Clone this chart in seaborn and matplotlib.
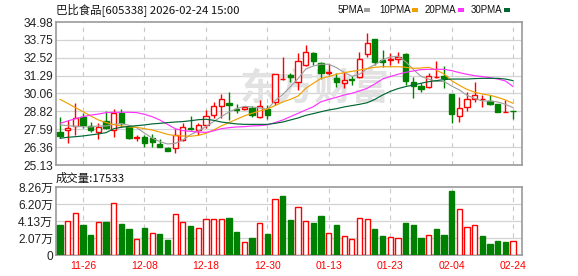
import numpy as np
import pandas as pd
import matplotlib
matplotlib.use("Agg")
import matplotlib.pyplot as plt
from matplotlib.patches import Rectangle
import seaborn as sns

# ---------------- data ----------------
dates = ["11-21", "11-24", "11-25", "11-26", "11-27", "11-28",
         "12-01", "12-02", "12-03", "12-04", "12-05",
         "12-08", "12-09", "12-10", "12-11", "12-12",
         "12-15", "12-16", "12-17", "12-18", "12-19",
         "12-22", "12-23", "12-24", "12-25", "12-26",
         "12-29", "12-30", "12-31",
         "01-05", "01-06", "01-07", "01-08", "01-09",
         "01-12", "01-13", "01-14", "01-15", "01-16",
         "01-19", "01-20", "01-21", "01-22", "01-23",
         "01-26", "01-27", "01-28", "01-29", "01-30",
         "02-02", "02-03", "02-04", "02-05", "02-06",
         "02-09", "02-10", "02-11", "02-12", "02-13", "02-24"]

opens = [27.38, 27.54, 27.82, 28.41, 27.82, 27.43, 28.16, 27.54, 28.69, 27.77,
         27.00, 27.08, 26.99, 26.55, 26.32, 26.28, 26.85, 27.70, 27.54, 27.89,
         28.57, 29.22, 29.38, 29.01, 28.97, 29.08, 28.46, 28.97, 29.45, 31.03,
         31.33, 30.87, 32.02, 32.82, 32.13, 31.48, 31.15, 30.76, 31.05, 31.17,
         32.78, 33.79, 32.36, 32.36, 32.41, 32.78, 30.87, 30.57, 30.53, 31.17,
         31.26, 30.02, 28.51, 29.15, 29.68, 29.65, 29.52, 29.31, 28.76, 28.87]
highs = [28.46, 28.23, 29.38, 28.69, 28.07, 28.00, 28.87, 28.99, 28.97, 27.80,
         27.20, 27.20, 27.24, 26.90, 26.39, 27.61, 28.00, 28.53, 28.00, 28.92,
         29.49, 30.02, 30.18, 29.33, 29.20, 29.22, 29.61, 29.26, 31.40, 32.59,
         31.50, 32.87, 33.40, 32.89, 32.25, 32.06, 31.49, 31.56, 31.28, 32.89,
         34.20, 33.79, 33.05, 32.87, 32.91, 32.82, 31.17, 30.80, 31.49, 32.30,
         31.95, 30.02, 29.79, 30.18, 30.87, 29.95, 29.95, 29.31, 29.61, 28.87]
lows = [26.97, 26.62, 27.20, 27.66, 27.43, 26.90, 27.59, 27.08, 27.73, 26.92,
        26.75, 26.39, 26.39, 26.35, 26.12, 25.98, 26.78, 27.54, 27.20, 27.66,
        28.35, 28.35, 28.23, 28.69, 28.92, 28.46, 28.39, 28.32, 29.27, 31.00,
        30.87, 30.30, 31.94, 32.02, 31.05, 31.31, 30.53, 30.46, 30.64, 31.10,
        32.59, 32.02, 31.86, 32.02, 32.13, 30.64, 29.72, 30.18, 30.41, 31.10,
        30.46, 28.00, 28.12, 28.87, 29.49, 29.15, 29.26, 28.76, 28.76, 28.27]
closes = [27.13, 27.66, 28.35, 27.89, 27.54, 27.77, 27.66, 28.69, 28.00, 26.97,
          27.08, 26.62, 26.70, 26.39, 26.12, 27.20, 27.73, 27.64, 27.89, 28.51,
          29.20, 29.65, 29.29, 28.94, 29.13, 28.55, 29.22, 28.55, 31.40, 31.05,
          31.22, 32.32, 32.94, 32.32, 31.49, 31.52, 30.83, 30.99, 30.99, 32.41,
          33.56, 32.20, 32.25, 32.43, 32.57, 30.89, 30.60, 30.37, 31.28, 31.20,
          31.10, 28.64, 29.03, 29.65, 29.93, 29.70, 29.33, 28.78, 28.76, 28.83]

# volume in 万 (10k hands)
volumes = [3.63, 4.15, 5.16, 3.63, 2.42, 3.95, 3.95, 6.37, 3.75, 3.14,
           1.89, 3.26, 2.62, 2.50, 1.81, 4.92, 3.95, 3.51, 3.22, 4.43,
           4.43, 4.43, 4.55, 2.78, 1.53, 2.06, 3.83, 2.54, 6.77, 7.13,
           4.23, 5.88, 4.07, 3.87, 4.72, 2.62, 3.63, 2.30, 1.93, 4.55,
           4.35, 3.14, 2.30, 2.18, 2.02, 3.87, 3.63, 2.06, 2.38, 3.14,
           2.42, 7.74, 5.64, 3.39, 3.59, 2.30, 1.33, 1.69, 1.57, 1.7533]
vol_up = [0, 1, 1, 0, 0, 1, 0, 1, 0, 0,
          1, 0, 1, 0, 0, 1, 1, 0, 1, 1,
          1, 1, 0, 0, 1, 0, 1, 0, 1, 0,
          0, 1, 1, 0, 0, 1, 0, 1, 1, 1,
          1, 0, 0, 1, 1, 0, 0, 0, 1, 0,
          0, 0, 1, 1, 1, 0, 0, 0, 0, 1]

ma5 = [27.89, 27.84, 27.79, 27.77, 27.75, 27.82, 27.82, 27.93, 27.98, 27.86,
       27.70, 27.33, 26.99, 26.74, 26.58, 26.62, 26.85, 27.22, 27.47, 27.77,
       28.12, 28.46, 28.78, 29.01, 29.17, 29.13, 29.06, 28.97, 29.56, 29.98,
       30.53, 31.08, 31.74, 31.95, 32.07, 32.07, 31.84, 31.51, 31.24, 31.38,
       31.77, 32.04, 32.36, 32.57, 32.62, 32.25, 31.72, 31.24, 31.05, 30.89,
       30.89, 30.57, 30.30, 29.93, 29.72, 29.54, 29.54, 29.47, 29.31, 29.08]
ma10 = [29.65, 29.38, 29.08, 28.80, 28.51, 28.23, 28.05, 27.91, 27.82, 27.75,
        27.73, 27.63, 27.54, 27.40, 27.24, 27.15, 27.13, 27.11, 27.17, 27.31,
        27.54, 27.82, 28.05, 28.28, 28.51, 28.69, 28.85, 28.99, 29.22, 29.47,
        29.65, 29.88, 30.41, 30.76, 31.10, 31.22, 31.38, 31.49, 31.58, 31.67,
        31.77, 31.86, 31.90, 31.90, 31.90, 31.86, 31.79, 31.81, 31.86, 31.67,
        31.40, 30.94, 30.62, 30.34, 30.14, 30.02, 29.93, 29.79, 29.61, 29.38]
ma20 = [28.00, 28.16, 28.32, 28.46, 28.57, 28.64, 28.74, 28.76, 28.76, 28.76,
        28.74, 28.62, 28.46, 28.23, 27.93, 27.63, 27.50, 27.45, 27.40, 27.38,
        27.48, 27.63, 27.70, 27.75, 27.77, 27.82, 27.84, 27.89, 28.05, 28.23,
        28.46, 28.69, 28.92, 29.15, 29.49, 29.65, 29.79, 29.95, 30.07, 30.23,
        30.41, 30.71, 31.05, 31.22, 31.38, 31.51, 31.61, 31.70, 31.72, 31.72,
        31.72, 31.63, 31.49, 31.38, 31.28, 31.22, 31.15, 31.05, 30.92, 30.53]
ma30 = [26.97, 27.04, 27.08, 27.13, 27.20, 27.27, 27.36, 27.63, 27.73, 27.79,
        27.84, 27.89, 27.96, 28.00, 28.05, 28.09, 28.12, 28.18, 28.25, 28.28,
        28.21, 28.09, 28.02, 27.96, 27.93, 27.93, 27.93, 27.93, 28.00, 28.09,
        28.23, 28.37, 28.55, 28.67, 28.80, 28.92, 29.01, 29.13, 29.22, 29.31,
        29.42, 29.65, 29.95, 30.20, 30.39, 30.53, 30.64, 30.76, 30.87, 30.94,
        31.01, 31.05, 31.05, 31.05, 31.08, 31.10, 31.10, 31.10, 31.05, 30.94]

price_ticks = [25.13, 26.36, 27.59, 28.82, 30.06, 31.29, 32.52, 33.75, 34.98]
vol_ticks = [0, 2.07, 4.13, 6.20, 8.26]
vol_tick_labels = ["0", "2.07万", "4.13万", "6.20万", "8.26万"]
date_ticks = ["11-26", "12-08", "12-18", "12-30", "01-13", "01-23", "02-04", "02-24"]
ma_names = ["5PMA", "10PMA", "20PMA", "30PMA"]
ma_colors = ["#a0a0a0", "#f0a000", "#ff33ff", "#006633"]
title = "巴比食品[605338] 2026-02-24 15:00"
vol_title = "成交量:17533"

# ---------------- style ----------------
sns.set_style("white")
plt.rcParams["font.family"] = ["Liberation Sans", "Noto Sans CJK SC", "DejaVu Sans"]
cjk = ["Noto Sans CJK SC", "DejaVu Sans"]

RED = "#ff0000"
GREEN = "#008000"
GRID = "#d3d3d3"
SPINE = "#9a9a9a"

df = pd.DataFrame({"date": dates, "open": opens, "high": highs, "low": lows,
                   "close": closes, "vol": volumes, "vol_up": vol_up,
                   "ma5": ma5, "ma10": ma10, "ma20": ma20, "ma30": ma30})
df["idx"] = np.arange(len(df))
df["up"] = df["close"] >= df["open"]

W, H = 578, 276
fig = plt.figure(figsize=(W / 100, H / 100), dpi=100)
fig.patch.set_facecolor("white")


def fx(px):
    return px / W


def fy(py):
    return 1 - py / H


L, R = 56, 522
ax = fig.add_axes([fx(L), fy(165), (R - L) / W, (165 - 22) / H])
axv = fig.add_axes([fx(L), fy(255), (R - L) / W, (255 - 187) / H])

xlim = (-0.52, 60.16)
tick_pos = [dates.index(d) for d in date_ticks]

for a in (ax, axv):
    a.set_xlim(*xlim)
    for s in a.spines.values():
        s.set_color(SPINE)
        s.set_linewidth(1.2)
    for t in tick_pos:
        a.axvline(t, color="#c8c8c8", lw=0.8, ls=(0, (4, 4)), zorder=1)
    a.tick_params(length=0)

# price panel grid
ax.set_ylim(price_ticks[0], price_ticks[-1])
ax.set_yticks(price_ticks)
ax.set_yticklabels([f"{v:.2f}" for v in price_ticks], fontsize=8.6, color="#222222")
for v in price_ticks[1:-1]:
    ax.axhline(v, color=GRID, lw=0.9, zorder=1)
ax.set_xticks([])
ax.tick_params(axis="y", pad=2)

# watermark
ax.text(0.555, 0.53, "东方财富", transform=ax.transAxes, fontsize=27,
        family=cjk, color="#e2e2e2", ha="center", va="center", zorder=1.5,
        fontweight="bold")

# candles
bw = 0.68
colors = np.where(df["up"], RED, GREEN)
ax.vlines(df["idx"], df["low"], df["high"], colors=colors, lw=1.0, zorder=3)
body_bottom = np.minimum(df["open"], df["close"])
body_h = np.maximum(np.abs(df["close"] - df["open"]), 0.012)
ax.bar(df["idx"], body_h, bottom=body_bottom, width=bw,
       color=np.where(df["up"], "white", GREEN), edgecolor=colors,
       linewidth=1.0, zorder=4)

# moving averages with seaborn
for name, c in zip(["ma5", "ma10", "ma20", "ma30"], ma_colors):
    sns.lineplot(data=df, x="idx", y=name, ax=ax, color=c, lw=0.85, zorder=5)
ax.set_xlabel("")
ax.set_ylabel("")
ax.set_xlim(*xlim)
ax.set_xticks([])

# volume panel
axv.set_ylim(0, vol_ticks[-1])
axv.set_yticks(vol_ticks)
axv.set_yticklabels(vol_tick_labels, fontsize=8.6, color="#222222")
for v in vol_ticks[1:-1]:
    axv.axhline(v, color=GRID, lw=0.9, zorder=1)
vcol = np.where(df["vol_up"] == 1, RED, GREEN)
axv.bar(df["idx"], df["vol"], width=bw,
        color=np.where(df["vol_up"] == 1, "white", GREEN),
        edgecolor=vcol, linewidth=1.0, zorder=3)
axv.set_xticks(tick_pos)
axv.set_xticklabels(date_ticks, fontsize=7.5, color=RED)
axv.tick_params(axis="x", pad=4.5)
axv.tick_params(axis="y", pad=2)
axv.set_xlabel("")
axv.set_ylabel("")

# header texts
fig.text(fx(56), fy(10), title, fontsize=8.2, family=cjk, color="#111111",
         ha="left", va="center")
fig.text(fx(56), fy(178), vol_title, fontsize=8.2, family=cjk, color="#111111",
         ha="left", va="center")

leg_text_x = [338, 379, 425, 471]
leg_box_x = [364, 412, 458, 504]
for name, col, tx, bx in zip(ma_names, ma_colors, leg_text_x, leg_box_x):
    fig.text(fx(tx), fy(10), name, fontsize=7.0, color="#111111",
             ha="left", va="center")
    fig.add_artist(Rectangle((fx(bx), fy(12)), 6 / W, 4 / H,
                             transform=fig.transFigure, color=col, lw=0))

fig.savefig("out.png", dpi=100, facecolor="white")
